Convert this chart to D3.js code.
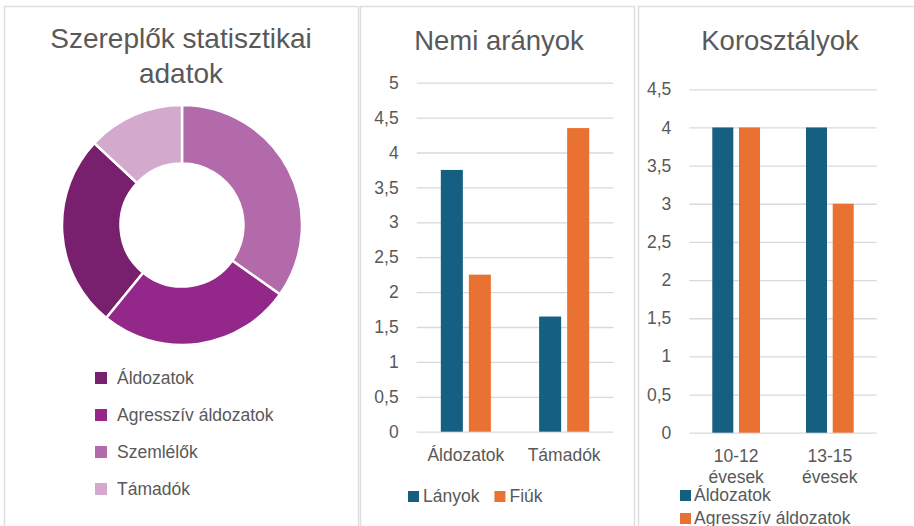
<!DOCTYPE html>
<html>
<head>
<meta charset="UTF-8">
<title>Szereplők</title>
<script src="https://cdn.jsdelivr.net/npm/d3@7"></script>
<style>
  body { margin: 0; background: #fff; }
  text { font-family: "Liberation Sans", Arial, sans-serif; fill: #595959; }
</style>
</head>
<body>
<script>
// donut
var roleLabels = ["Áldozatok", "Agresszív áldozatok", "Szemlélők", "Támadók"];
var roleValues = [6, 6, 8, 3];
var roleColors = ["#78206e", "#94288a", "#b26aaa", "#d3aacd"];

// gender chart
var genderCats = ["Áldozatok", "Támadók"];
var genderSeries = ["Lányok", "Fiúk"];
var girls = [3.75, 1.65];
var boys = [2.25, 4.35];

// age chart
var ageCats = ["10-12 évesek", "13-15 évesek"];
var ageSeries = ["Áldozatok", "Agresszív áldozatok"];
var victims = [4, 4];
var aggressive = [4, 3];

var barColors = ["#156082", "#e97132"];

var W = 914, H = 526;
var svg = d3.select("body").append("svg").attr("width", W).attr("height", H);

// panel frames
var panels = [[4.5, 354], [360.5, 274], [638.5, 290]];
svg.selectAll("rect.panel").data(panels).enter().append("rect")
    .attr("class", "panel")
    .attr("x", function (d) { return d[0]; })
    .attr("y", 6.5)
    .attr("width", function (d) { return d[1]; })
    .attr("height", 540)
    .attr("fill", "#fff")
    .attr("stroke", "#dedede")
    .attr("stroke-width", 1.5);

var huFormat = d3.formatLocale({decimal: ",", thousands: " ", grouping: [3], currency: ["", " Ft"]}).format("~g");

// ---------- donut ----------
var g1 = svg.append("g").attr("transform", "translate(182,225)");
var a0 = -2 * Math.PI * roleValues[3] / d3.sum(roleValues);
var pie = d3.pie().sort(null).startAngle(a0).endAngle(a0 - 2 * Math.PI);
var arc = d3.arc().innerRadius(61.5).outerRadius(120);
g1.selectAll("path").data(pie(roleValues)).enter().append("path")
    .attr("d", arc)
    .attr("fill", function (d, i) { return roleColors[i]; })
    .attr("stroke", "#fff")
    .attr("stroke-width", 2.5);

var t1 = svg.append("text").attr("text-anchor", "middle").attr("font-size", 28);
t1.append("tspan").attr("x", 181).attr("y", 48).text("Szereplők statisztikai");
t1.append("tspan").attr("x", 181).attr("y", 83).text("adatok");

var leg1 = svg.selectAll("g.leg1").data(roleLabels).enter().append("g")
    .attr("transform", function (d, i) { return "translate(95," + (378 + i * 37) + ")"; });
leg1.append("rect").attr("x", 0).attr("y", -6).attr("width", 12).attr("height", 12)
    .attr("fill", function (d, i) { return roleColors[i]; });
leg1.append("text").attr("x", 22).attr("y", 6).attr("font-size", 17.5).text(function (d) { return d; });

// ---------- grouped bar helper ----------
function barChart(opt) {
    var g = svg.append("g");
    var x0 = d3.scaleBand().domain(opt.cats).range([opt.left, opt.right]);
    var x1 = d3.scaleBand().domain(opt.series).range([0, x0.bandwidth()])
        .paddingInner(0.214).paddingOuter(0.86);
    var y = d3.scaleLinear().domain([0, opt.max]).range([opt.bottom, opt.top]);

    var yAxis = d3.axisLeft(y).tickValues(d3.range(0, opt.max + 0.01, 0.5))
        .tickSize(-(opt.right - opt.left)).tickPadding(18).tickFormat(huFormat);
    g.append("g").attr("transform", "translate(" + opt.left + ",0)").call(yAxis)
        .call(function (s) {
            s.select(".domain").remove();
            s.selectAll("line").attr("stroke", "#d9d9d9").attr("stroke-width", 1.3);
            s.selectAll("text").attr("font-size", 17.5).attr("fill", "#595959")
                .attr("font-family", "Liberation Sans, Arial, sans-serif");
        });

    var rows = opt.cats.map(function (c, i) {
        return opt.series.map(function (s, j) { return {cat: c, s: s, v: opt.values[j][i], j: j}; });
    });
    g.selectAll("g.grp").data(rows).enter().append("g")
        .attr("transform", function (d, i) { return "translate(" + x0(opt.cats[i]) + ",0)"; })
        .selectAll("rect").data(function (d) { return d; }).enter().append("rect")
        .attr("x", function (d) { return x1(d.s); })
        .attr("width", x1.bandwidth())
        .attr("y", function (d) { return y(d.v); })
        .attr("height", function (d) { return y(0) - y(d.v); })
        .attr("fill", function (d) { return barColors[d.j]; });

    var xl = g.selectAll("text.cat").data(opt.cats).enter().append("text")
        .attr("text-anchor", "middle").attr("font-size", 17.5);
    xl.each(function (d) {
        var parts = opt.wrap ? d.split(" ") : [d];
        var t = d3.select(this);
        parts.forEach(function (p, k) {
            t.append("tspan").attr("x", x0(d) + x0.bandwidth() / 2)
                .attr("y", opt.catY + k * 21).text(p);
        });
    });

    svg.append("text").attr("text-anchor", "middle").attr("font-size", 27.5)
        .attr("x", opt.titleX).attr("y", 50).text(opt.title);
    return g;
}

barChart({
    cats: genderCats, series: genderSeries, values: [girls, boys],
    left: 416.7, right: 613.3, top: 82.7, bottom: 431.7, max: 5,
    catY: 461, title: "Nemi arányok", titleX: 499
});

barChart({
    cats: ageCats, series: ageSeries, values: [victims, aggressive],
    left: 689.3, right: 876.7, top: 89.3, bottom: 432.7, max: 4.5,
    catY: 462, wrap: true, title: "Korosztályok", titleX: 780
});

// legends for bar charts
var leg2 = svg.append("g");
var lx = 408;
genderSeries.forEach(function (s, i) {
    leg2.append("rect").attr("x", lx).attr("y", 491).attr("width", 11).attr("height", 11).attr("fill", barColors[i]);
    var t = leg2.append("text").attr("x", lx + 15).attr("y", 502).attr("font-size", 17.5).text(s);
    lx += 15 + t.node().getComputedTextLength() + 15;
});

var leg3 = svg.selectAll("g.leg3").data(ageSeries).enter().append("g")
    .attr("transform", function (d, i) { return "translate(680," + (490 + i * 23) + ")"; });
leg3.append("rect").attr("width", 11).attr("height", 11).attr("fill", function (d, i) { return barColors[i]; });
leg3.append("text").attr("x", 14).attr("y", 11).attr("font-size", 17.5).text(function (d) { return d; });
</script>
</body>
</html>
